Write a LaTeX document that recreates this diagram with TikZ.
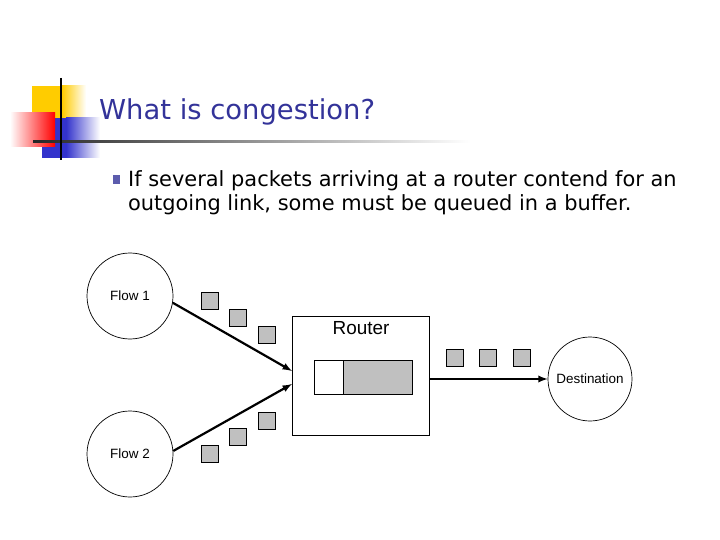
\documentclass[tikz,border=0pt]{standalone}
\usepackage{fontspec}
\setmainfont{DejaVu Sans}
\newfontfamily\labelfont{Liberation Sans}
\usepackage{tikz}
\usetikzlibrary{shapes,arrows}
\usetikzlibrary{positioning}
\definecolor{titleblue}{RGB}{51,51,153}
\definecolor{logoyellow}{RGB}{255,204,0}
\definecolor{logoblue}{RGB}{51,51,204}
\definecolor{logored}{RGB}{255,0,0}
\definecolor{pktgray}{RGB}{192,192,192}
\tikzset{flow node/.style={circle,draw,line width=0.7bp,minimum size=86bp,inner sep=0pt,font=\labelfont\fontsize{13.5}{14}\selectfont},
  packet/.style={rectangle,draw,line width=0.7bp,fill=pktgray,minimum size=17bp,inner sep=0pt},
  }

\begin{document}
\begin{tikzpicture}[x=1bp,y=-1bp,>=latex,line width=2.2bp]
   \useasboundingbox (0,0) rectangle (720,540);
   % logo
   \fill[logoyellow] (32,86) rectangle (62,118);
   \shade[left color=logoyellow,right color=white,draw=none] (62,86) rectangle (86,118);
   \fill[logoblue] (42,118) rectangle (66,158);
   \shade[left color=logoblue,right color=white,draw=none] (66,118) rectangle (100,158);
   \shade[left color=white,right color=logored,draw=none] (10,113) rectangle (55,147);
   \shade[left color=black!85,right color=white,draw=none] (33,140.5) rectangle (470,143);
   \draw[line width=2bp] (61,78) -- (61,160);
   \node[anchor=base west,inner sep=0pt,text=titleblue,font=\fontsize{27.5}{30}\selectfont] (title) at (98,120) {What is congestion?};
   % bullet
   \fill[titleblue!80] (113,175) rectangle (120,184);
   \node[anchor=base west,inner sep=0pt,align=left,font=\fontsize{21}{25}\selectfont] (text) at (127,211)
     {If several packets arriving at a router contend for an\\outgoing link, some must be queued in a buffer.};

   \node[flow node] (flow1) at (130,296) {Flow 1};
   \node[flow node] (flow2) at (130,454) {Flow 2};
   \node[flow node,minimum size=84bp] (dest) at (590,379) {Destination};
   \node[draw,line width=0.7bp,minimum width=137bp,minimum height=119bp,inner sep=0pt] (router) at (360.5,375.5) {};
   \node[font=\labelfont\fontsize{19}{20}\selectfont] (routerlbl) at (361,328) {Router};
   \node[draw,line width=0.7bp,fill=white,minimum width=29bp,minimum height=34bp,inner sep=0pt] (bufempty) at (328.5,377) {};
   \node[draw,line width=0.7bp,fill=pktgray,minimum width=69bp,minimum height=34bp,inner sep=0pt,right=0pt of bufempty] (buffull) {};

   \node[packet] (p1) at (209.5,300.5) {};
   \node[packet] (p2) at (238,317.5) {};
   \node[packet] (p3) at (267,334.5) {};
   \node[packet] (p4) at (209.5,453.5) {};
   \node[packet] (p5) at (238,437) {};
   \node[packet] (p6) at (267,420.5) {};
   \node[packet] (p7) at (454.5,357.5) {};
   \node[packet] (p8) at (488,357.5) {};
   \node[packet] (p9) at (522,357.5) {};

   \coordinate (in1) at (292,371);
   \coordinate (in2) at (292,384);
   \coordinate (out) at (429,379);
   \draw[->] (flow1.-9) -- (in1);
   \draw[->] (flow2.4) -- (in2);
   \draw[->] (out) -- (dest.west);
\end{tikzpicture}
\end{document}
